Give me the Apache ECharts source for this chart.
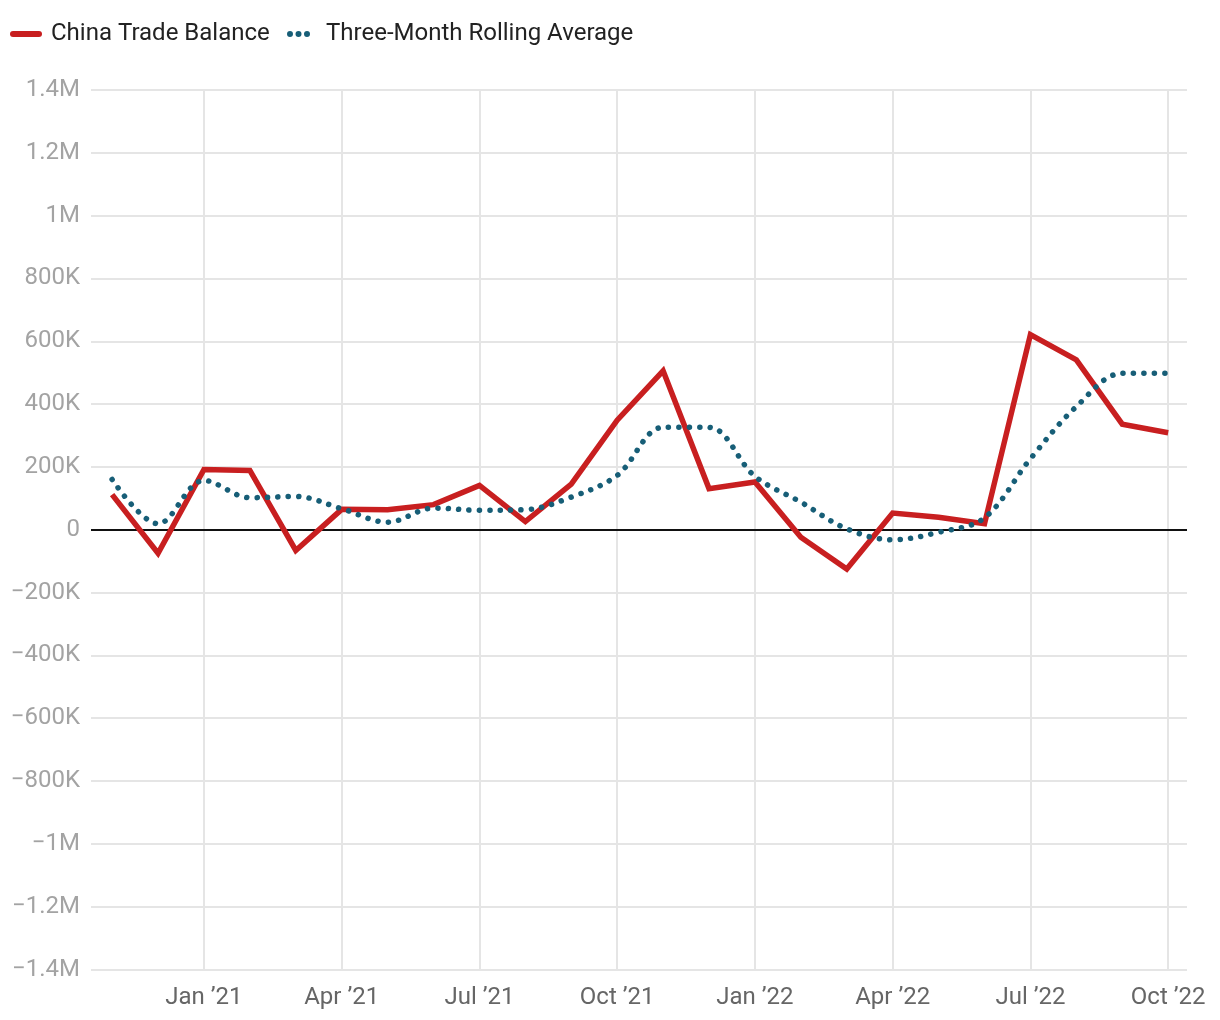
<!DOCTYPE html>
<html>
<head>
<meta charset="utf-8">
<script src="https://cdn.jsdelivr.net/npm/echarts@6/dist/echarts.min.js"></script>
<style>
html,body{margin:0;padding:0;background:#fff;}
#chart{width:1220px;height:1020px;}
</style>
</head>
<body>
<div id="chart"></div>
<script>
// Months (Nov 2020 .. Oct 2022)
var months = ["Nov '20","Dec '20","Jan '21","Feb '21","Mar '21","Apr '21","May '21","Jun '21","Jul '21","Aug '21","Sep '21","Oct '21",
              "Nov '21","Dec '21","Jan '22","Feb '22","Mar '22","Apr '22","May '22","Jun '22","Jul '22","Aug '22","Sep '22","Oct '22"];
var tradeBalance = [112000,-75000,192000,189000,-66000,65000,64000,80000,141000,26000,145000,349000,
                    506000,131000,152000,-24000,-125000,53000,40000,19000,621000,541000,336000,309000];
var rollingAvg = [160000,19000,157000,102000,106000,67000,24000,69000,62000,64000,104000,173000,
                  326000,326000,170000,88000,3000,-32000,-8000,38000,226000,392000,498000,498000];
var xTickIndex = [2,5,8,11,14,17,20,23];
var xTickLabels = ["Jan \u201921","Apr \u201921","Jul \u201921","Oct \u201921","Jan \u201922","Apr \u201922","Jul \u201922","Oct \u201922"];
var yTickValues = [-1400000,-1200000,-1000000,-800000,-600000,-400000,-200000,0,200000,400000,600000,800000,1000000,1200000,1400000];
var yTickLabels = ["\u22121.4M","\u22121.2M","\u22121M","\u2212800K","\u2212600K","\u2212400K","\u2212200K","0","200K","400K","600K","800K","1M","1.2M","1.4M"];
var seriesNames = ["China Trade Balance","Three-Month Rolling Average"];

var chart = echarts.init(document.getElementById('chart'), null, {renderer:'canvas'});
var font = 'Roboto';
var redData = tradeBalance.map(function(v,i){return [i,v];});
var tealData = rollingAvg.map(function(v,i){return [i,v];});

var option = {
  backgroundColor:'#ffffff',
  animation:false,
  legend:[{
    data:[{name:seriesNames[0], icon:'path://M3,0L29,0A3,3 0 0 1 29,6L3,6A3,3 0 0 1 3,0Z'}],
    left:5, top:17, itemWidth:32, itemHeight:6,
    textStyle:{fontFamily:font, fontSize:24, color:'#222', padding:[0,0,0,4]}
  },{
    data:[{name:seriesNames[1], icon:'path://M0,3a3,3 0 1,0 6,0a3,3 0 1,0 -6,0M8.5,3a3,3 0 1,0 6,0a3,3 0 1,0 -6,0M17,3a3,3 0 1,0 6,0a3,3 0 1,0 -6,0'}],
    left:282, top:17, itemWidth:23, itemHeight:6,
    textStyle:{fontFamily:font, fontSize:24, color:'#222', padding:[0,0,0,11]}
  }],
  grid:{left:91, right:33, top:90, bottom:50.5, containLabel:false},
  xAxis:{
    type:'value', min:-0.46, max:23.41,
    axisLine:{show:false},
    axisTick:{show:false, customValues:xTickIndex},
    axisLabel:{customValues:xTickIndex, fontFamily:font, fontSize:24, color:'#666', margin:16,
      formatter:function(v){var k=xTickIndex.indexOf(Math.round(v)); return k>=0?xTickLabels[k]:'';}},
    splitLine:{show:true, lineStyle:{color:'#e5e5e5', width:2}}
  },
  yAxis:{
    type:'value', min:-1400000, max:1400000, interval:200000,
    axisLine:{show:false}, axisTick:{show:false},
    axisLabel:{fontFamily:font, fontSize:24, color:'#a3a3a3', margin:11,
      formatter:function(v){var k=yTickValues.indexOf(Math.round(v)); return k>=0?yTickLabels[k]:'';}},
    splitLine:{show:true, lineStyle:{color:'#e5e5e5', width:2}}
  },
  series:[{
    name:seriesNames[0], type:'line', data:redData, showSymbol:false, symbol:'none', z:3,
    itemStyle:{color:'#c81f20'},
    lineStyle:{color:'#c81f20', width:5.5, join:'miter'},
    markLine:{silent:true, symbol:'none', label:{show:false},
      lineStyle:{color:'#111', width:2, type:'solid'}, data:[{yAxis:0}], z:1}
  },{
    name:seriesNames[1], type:'line', data:tealData, showSymbol:false, symbol:'none', smooth:0.35, z:4,
    itemStyle:{color:'#175e77'},
    lineStyle:{color:'#175e77', width:5.5, type:[0.1,10.3], cap:'round'}
  }]
};
chart.setOption(option);
</script>
</body>
</html>
